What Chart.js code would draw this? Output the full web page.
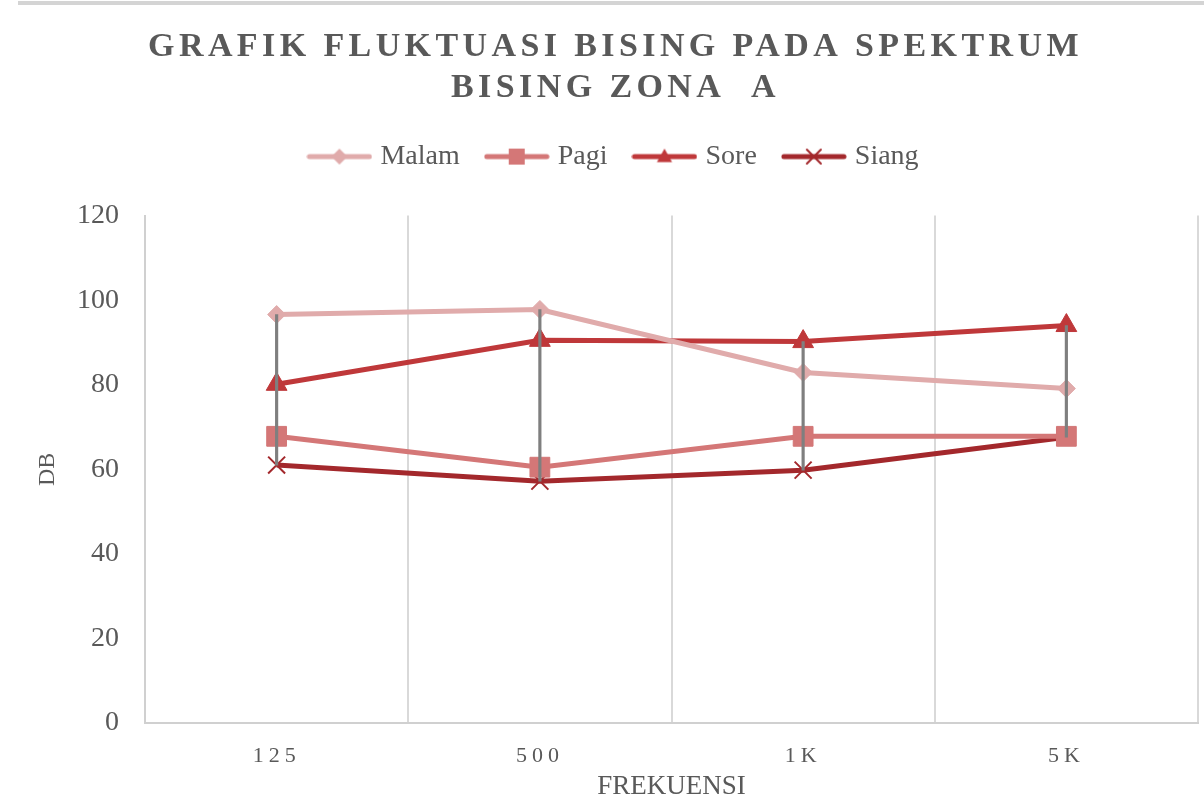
<!DOCTYPE html>
<html><head><meta charset="utf-8">
<script src="https://cdn.jsdelivr.net/npm/chart.js@4/dist/chart.umd.min.js"></script>
<style>
html,body{margin:0;padding:0;background:#fff;}
#wrap{position:relative;width:1204px;height:803px;overflow:hidden;}
#topline{position:absolute;left:18px;top:1px;width:1186px;height:4px;background:#d4d4d4;}
canvas{position:absolute;left:0;top:0;}
</style>
</head><body>
<div id="wrap"><div id="topline"></div><canvas id="c" width="1204" height="803"></canvas></div>
<script>
const categories = ['125', '500', '1K', '5K'];
const malam = [96.6, 97.8, 82.9, 79.1];
const pagi  = [67.8, 60.5, 67.8, 67.8];
const sore  = [80.1, 90.5, 90.2, 94.0];
const siang = [61.0, 57.2, 59.8, 67.6];
const seriesNames = ['Malam', 'Pagi', 'Sore', 'Siang'];
const yTicks = [0, 20, 40, 60, 80, 100, 120];
const titleLines = ['GRAFIK FLUKTUASI BISING PADA SPEKTRUM', 'BISING ZONA  A'];
const xTitle = 'FREKUENSI';
const yTitle = 'DB';

const colors = ['#e0abab', '#d47777', '#bf383a', '#a3282c'];
const styles = ['rectRot', 'rect', 'triangle', 'crossRot'];
const radii = [9, 14, 12, 12];
const FONT = "'Liberation Serif', 'DejaVu Serif', serif";
const TXT = '#595959';

const seriesData = [malam, pagi, sore, siang];
const hiLow = categories.map((_, i) => {
  const vals = seriesData.map(s => s[i]);
  return [Math.min(...vals), Math.max(...vals)];
});

function drawMarker(ctx, style, x, y, r, color) {
  ctx.save();
  ctx.fillStyle = color; ctx.strokeStyle = color;
  ctx.beginPath();
  if (style === 'rectRot') {
    ctx.moveTo(x, y - r); ctx.lineTo(x + r, y); ctx.lineTo(x, y + r); ctx.lineTo(x - r, y); ctx.closePath(); ctx.fill();
  } else if (style === 'rect') {
    ctx.rect(x - r, y - r, 2 * r, 2 * r); ctx.fill();
  } else if (style === 'triangle') {
    ctx.moveTo(x, y - r); ctx.lineTo(x + r * 0.95, y + r * 0.7); ctx.lineTo(x - r * 0.95, y + r * 0.7); ctx.closePath(); ctx.fill();
  } else {
    ctx.lineWidth = 2;
    ctx.moveTo(x - r, y - r); ctx.lineTo(x + r, y + r); ctx.moveTo(x + r, y - r); ctx.lineTo(x - r, y + r); ctx.stroke();
  }
  ctx.restore();
}
function legendIcon(i) {
  const c = document.createElement('canvas');
  c.width = 66; c.height = 24;
  const ctx = c.getContext('2d');
  ctx.strokeStyle = colors[i]; ctx.lineWidth = 5; ctx.lineCap = 'round';
  ctx.beginPath(); ctx.moveTo(3, 12); ctx.lineTo(63, 12); ctx.stroke();
  const lr = [8, 8, 8, 7][i];
  drawMarker(ctx, styles[i], 33, 12, lr, colors[i]);
  return c;
}
const icons = seriesNames.map((_, i) => legendIcon(i));

const lineSets = seriesNames.map((name, i) => ({
  type: 'line',
  label: name,
  data: seriesData[i],
  borderColor: colors[i],
  backgroundColor: colors[i],
  borderWidth: 5,
  pointStyle: styles[i],
  pointRadius: radii[i],
  pointHoverRadius: radii[i],
  pointBorderWidth: styles[i] === 'crossRot' ? 2 : 1,
  pointBackgroundColor: colors[i],
  pointBorderColor: colors[i],
  tension: 0,
  order: 1
}));

const spacingPlugin = {
  id: 'spacing',
  beforeLayout(chart) {
    const lg = chart.legend;
    if (lg && !lg._sp) {
      const of = lg.fit.bind(lg);
      lg.fit = function () { of(); this.height += 35; };
      lg._sp = true;
    }
  },
  beforeDraw(chart) {
    const tb = chart.titleBlock;
    if (tb && !tb._sp) {
      const orig = tb.draw.bind(tb);
      tb.draw = function () { const ctx = chart.ctx; ctx.save(); ctx.letterSpacing = '4.4px'; orig(); ctx.restore(); };
      tb._sp = true;
    }
    const xs = chart.scales.x;
    if (xs && !xs._sp) {
      const o = xs.drawLabels.bind(xs);
      xs.drawLabels = function (a) { const ctx = chart.ctx; ctx.save(); ctx.letterSpacing = '5px'; o(a); ctx.restore(); };
      xs._sp = true;
    }
  }
};

new Chart(document.getElementById('c'), {
  type: 'line',
  data: {
    labels: categories,
    datasets: [
      ...lineSets,
      {
        type: 'bar',
        label: 'hilo',
        data: hiLow,
        backgroundColor: '#7f7f7f',
        borderWidth: 0,
        barThickness: 2.5,
        order: 0
      }
    ]
  },
  options: {
    responsive: false,
    animation: false,
    devicePixelRatio: 1,
    layout: { autoPadding: false, padding: { left: 33, right: 6, top: 0, bottom: 0 } },
    plugins: {
      tooltip: { enabled: false },
      title: {
        display: true,
        text: titleLines,
        color: TXT,
        font: { family: FONT, size: 34, weight: 'bold', lineHeight: 1.2 },
        padding: { top: 27, bottom: 4 }
      },
      legend: {
        display: true,
        labels: {
          usePointStyle: true,
          pointStyleWidth: 54,
          generateLabels: (chart) => seriesNames.map((n, i) => ({
            text: n, datasetIndex: i, pointStyle: icons[i],
            fillStyle: colors[i], strokeStyle: colors[i], fontColor: TXT, lineWidth: 0, hidden: false
          })),
          color: TXT,
          font: { family: FONT, size: 28 },
          padding: 30
        }
      }
    },
    scales: {
      x: {
        type: 'category',
        offset: true,
        grid: { display: true, offset: true, color: '#d9d9d9', lineWidth: 2, drawTicks: false },
        border: { display: true, color: '#d0d0d0', width: 2 },
        ticks: { color: TXT, font: { family: FONT, size: 22 }, padding: 20 },
        title: { display: true, text: xTitle, color: TXT, font: { family: FONT, size: 27 }, padding: { top: 4, bottom: 0 } },
        afterFit: (s) => { s.height = 80; s.paddingLeft = 0; s.paddingRight = 0; }
      },
      y: {
        min: 0, max: 120,
        afterBuildTicks: (s) => { s.ticks = yTicks.map(v => ({ value: v })); },
        grid: { display: false, drawTicks: false },
        border: { display: true, color: '#d0d0d0', width: 2 },
        ticks: { color: TXT, font: { family: FONT, size: 28 }, padding: 26 },
        title: { display: true, text: yTitle, color: TXT, font: { family: FONT, size: 24 }, padding: { top: 0, bottom: 6 } },
        afterFit: (s) => { s.width = 112; }
      }
    }
  },
  plugins: [spacingPlugin]
});
</script>
</body></html>
